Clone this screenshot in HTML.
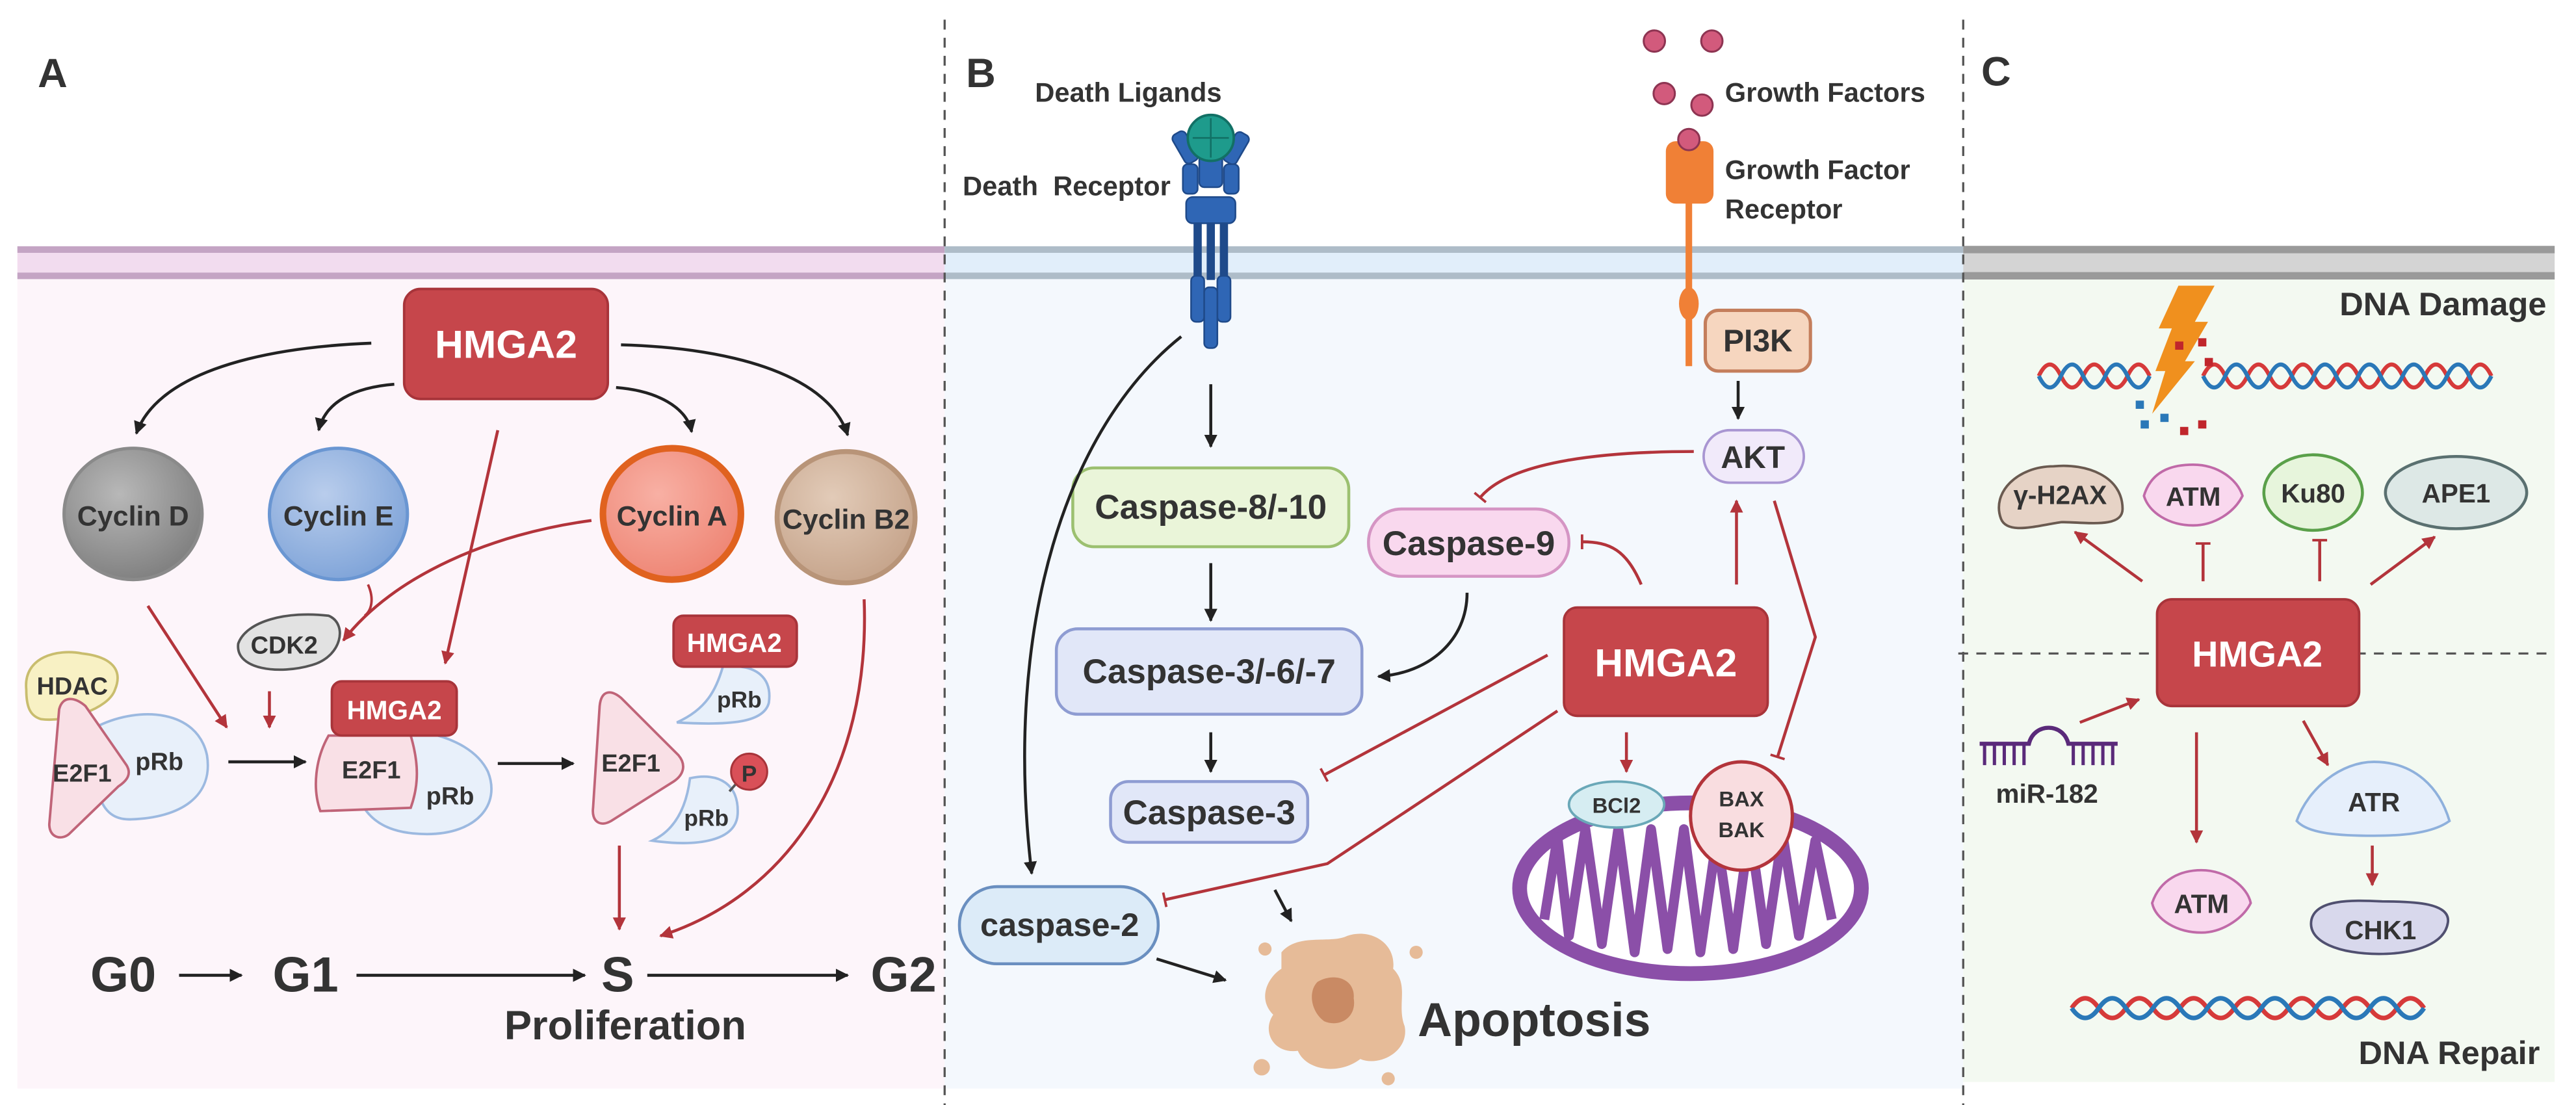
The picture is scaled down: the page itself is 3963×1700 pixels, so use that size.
<!DOCTYPE html>
<html><head><meta charset="utf-8"><style>
html,body{margin:0;padding:0;background:#fff;}
svg{display:block;}
text{font-family:"Liberation Sans",Arial,sans-serif;font-weight:bold;fill:#333;}
</style></head><body>
<svg width="3963" height="1700" viewBox="0 0 1568 673" preserveAspectRatio="none" xmlns="http://www.w3.org/2000/svg">
<defs>
<marker id="ab" viewBox="0 0 10 10" refX="9" refY="5" markerWidth="8" markerHeight="8" markerUnits="userSpaceOnUse" orient="auto"><path d="M0,0 L10,5 L0,10 z" fill="#222"/></marker>
<marker id="ar" viewBox="0 0 10 10" refX="9" refY="5" markerWidth="8" markerHeight="8" markerUnits="userSpaceOnUse" orient="auto"><path d="M0,0 L10,5 L0,10 z" fill="#b3343b"/></marker>
<marker id="tr" viewBox="0 0 4 12" refX="2" refY="6" markerWidth="3" markerHeight="10" markerUnits="userSpaceOnUse" orient="auto"><path d="M2,0 V12" stroke="#b3343b" stroke-width="2"/></marker>
<radialGradient id="gD" cx="0.4" cy="0.35" r="0.7"><stop offset="0" stop-color="#b8b8b8"/><stop offset="1" stop-color="#7e7e7e"/></radialGradient>
<radialGradient id="gE" cx="0.4" cy="0.35" r="0.7"><stop offset="0" stop-color="#b9cdec"/><stop offset="1" stop-color="#7ea3d8"/></radialGradient>
<radialGradient id="gA" cx="0.4" cy="0.35" r="0.7"><stop offset="0" stop-color="#f8b0a4"/><stop offset="1" stop-color="#ee8473"/></radialGradient>
<radialGradient id="gB" cx="0.4" cy="0.35" r="0.7"><stop offset="0" stop-color="#e2cbb8"/><stop offset="1" stop-color="#c5a38a"/></radialGradient>
</defs>

<rect x="10.6" y="150" width="564.4" height="513" fill="#fdf5fa"/>
<rect x="575" y="150" width="620" height="513" fill="#f4f8fd"/>
<rect x="1195" y="150" width="360" height="509" fill="#f3f9f1"/>
<rect x="10.6" y="150" width="564.4" height="20" fill="#f2dcef"/>
<line x1="10.6" y1="152" x2="575" y2="152" stroke="#c4a4c4" stroke-width="4"/>
<line x1="10.6" y1="168" x2="575" y2="168" stroke="#c4a4c4" stroke-width="4"/>
<rect x="575" y="150" width="620" height="20" fill="#e1eefa"/>
<line x1="575" y1="152" x2="1195" y2="152" stroke="#aebcc8" stroke-width="4"/>
<line x1="575" y1="168" x2="1195" y2="168" stroke="#aebcc8" stroke-width="4"/>
<rect x="1195" y="150" width="360" height="20" fill="#d4d4d4"/>
<line x1="1195" y1="152" x2="1555" y2="152" stroke="#9a9a9a" stroke-width="4.5"/>
<line x1="1195" y1="168" x2="1555" y2="168" stroke="#9a9a9a" stroke-width="4.5"/>
<line x1="575" y1="12" x2="575" y2="673" stroke="#555" stroke-width="1.3" stroke-dasharray="6,5"/>
<line x1="1195" y1="12" x2="1195" y2="673" stroke="#555" stroke-width="1.3" stroke-dasharray="6,5"/>
<line x1="1192" y1="398" x2="1555" y2="398" stroke="#555" stroke-width="1.3" stroke-dasharray="6,5"/>

<text x="23" y="53" font-size="25">A</text>
<text x="588" y="53" font-size="25">B</text>
<text x="1206" y="52" font-size="25">C</text>

<!-- PANEL A -->
<rect x="246" y="176" width="124" height="67" rx="10" fill="#c6464b" stroke="#a8343a" stroke-width="1.5"/>
<text x="308" y="218" font-size="24" text-anchor="middle" style="fill:#fff">HMGA2</text>
<path d="M226,209 C150,212 95,230 83,264" fill="none" stroke="#222" stroke-width="1.8" marker-end="url(#ab)"/>
<path d="M240,234 C215,236 198,245 194,262" fill="none" stroke="#222" stroke-width="1.8" marker-end="url(#ab)"/>
<path d="M375,236 C400,238 418,248 421,263" fill="none" stroke="#222" stroke-width="1.8" marker-end="url(#ab)"/>
<path d="M378,210 C450,212 505,230 516,265" fill="none" stroke="#222" stroke-width="1.8" marker-end="url(#ab)"/>

<ellipse cx="81" cy="313" rx="42" ry="40" fill="url(#gD)" stroke="#8a8a8a" stroke-width="2"/>
<text x="81" y="320" font-size="17" text-anchor="middle">Cyclin D</text>
<ellipse cx="206" cy="313" rx="42" ry="40" fill="url(#gE)" stroke="#6a96d2" stroke-width="2"/>
<text x="206" y="320" font-size="17" text-anchor="middle">Cyclin E</text>
<ellipse cx="409" cy="313" rx="42" ry="40" fill="url(#gA)" stroke="#e0621f" stroke-width="4"/>
<text x="409" y="320" font-size="17" text-anchor="middle">Cyclin A</text>
<ellipse cx="515" cy="315" rx="42" ry="40" fill="url(#gB)" stroke="#b89478" stroke-width="3"/>
<text x="515" y="322" font-size="17" text-anchor="middle">Cyclin B2</text>

<path d="M303,262 L271,404" stroke="#b3343b" stroke-width="1.8" marker-end="url(#ar)"/>
<path d="M360,317 C300,325 240,350 209,390" fill="none" stroke="#b3343b" stroke-width="1.8" marker-end="url(#ar)"/>
<path d="M224,356 C228,365 226,372 222,375" fill="none" stroke="#b3343b" stroke-width="1.5"/>
<path d="M145,392 C150,378 175,372 200,375 C212,380 208,400 190,405 C170,411 143,408 145,392 z" fill="#e2e2e2" stroke="#555" stroke-width="1.5"/>
<text x="173" y="398" font-size="15" text-anchor="middle">CDK2</text>
<path d="M90,369 L138,443" stroke="#b3343b" stroke-width="1.8" marker-end="url(#ar)"/>
<path d="M164,421 L164,443" stroke="#b3343b" stroke-width="1.8" marker-end="url(#ar)"/>

<path d="M16,420 C14,400 35,395 50,398 C68,400 75,408 70,420 C66,432 40,440 25,438 C18,436 16,430 16,420 z" fill="#f8f1c4" stroke="#c9bd6e" stroke-width="1.5"/>
<text x="44" y="423" font-size="15" text-anchor="middle">HDAC</text>
<path d="M60,442 C85,430 120,432 126,460 C130,485 110,498 80,499 C60,500 55,480 60,442 z" fill="#e8f0fa" stroke="#9cb9e0" stroke-width="1.5"/>
<path d="M36,432 C38,424 45,424 52,430 L77,466 C80,471 78,475 72,479 L42,508 C37,512 30,510 30,502 z" fill="#f9e0e6" stroke="#c06478" stroke-width="1.5"/>
<text x="50" y="476" font-size="15" text-anchor="middle">E2F1</text>
<text x="97" y="469" font-size="15" text-anchor="middle">pRb</text>
<path d="M139,464 L186,464" stroke="#222" stroke-width="1.8" marker-end="url(#ab)"/>

<path d="M215,448 C240,440 285,445 297,470 C305,490 290,508 260,508 C230,508 210,495 215,448 z" fill="#e8f0fa" stroke="#9cb9e0" stroke-width="1.5"/>
<path d="M200,448 L250,448 C255,465 255,478 250,492 L195,494 C190,480 192,462 200,448 z" fill="#f9e0e6" stroke="#c06478" stroke-width="1.5"/>
<rect x="202" y="415" width="76" height="33" rx="6" fill="#c6464b" stroke="#a8343a" stroke-width="1.5"/>
<text x="240" y="438" font-size="16" text-anchor="middle" style="fill:#fff">HMGA2</text>
<text x="226" y="474" font-size="15" text-anchor="middle">E2F1</text>
<text x="274" y="490" font-size="15" text-anchor="middle">pRb</text>
<path d="M303,465 L349,465" stroke="#222" stroke-width="1.8" marker-end="url(#ab)"/>

<path d="M365,430 C366,420 372,420 378,425 L413,460 C418,466 416,472 410,476 L372,500 C365,504 360,500 361,492 z" fill="#f9e0e6" stroke="#c06478" stroke-width="1.5"/>
<text x="384" y="470" font-size="15" text-anchor="middle">E2F1</text>
<path d="M440,406 C462,404 470,414 468,428 C465,440 445,442 412,440 C430,432 436,420 440,406 z" fill="#e8f0fa" stroke="#9cb9e0" stroke-width="1.5"/>
<rect x="410" y="375" width="75" height="31" rx="6" fill="#c6464b" stroke="#a8343a" stroke-width="1.5"/>
<text x="447" y="397" font-size="16" text-anchor="middle" style="fill:#fff">HMGA2</text>
<text x="450" y="431" font-size="14" text-anchor="middle">pRb</text>
<path d="M420,474 C438,470 450,478 449,496 C448,512 425,516 397,512 C412,505 418,490 420,474 z" fill="#e8f0fa" stroke="#9cb9e0" stroke-width="1.5"/>
<line x1="444" y1="482" x2="451" y2="474" stroke="#555" stroke-width="1.5"/>
<circle cx="456" cy="470" r="11" fill="#d95058" stroke="#a8343a" stroke-width="1.2"/>
<text x="456" y="476" font-size="14" text-anchor="middle">P</text>
<text x="430" y="503" font-size="14" text-anchor="middle">pRb</text>
<path d="M377,515 L377,566" stroke="#b3343b" stroke-width="1.8" marker-end="url(#ar)"/>
<path d="M526,365 C530,470 480,545 402,570" fill="none" stroke="#b3343b" stroke-width="1.8" marker-end="url(#ar)"/>

<text x="55" y="604" font-size="30">G0</text>
<path d="M109,594 L147,594" stroke="#222" stroke-width="1.8" marker-end="url(#ab)"/>
<text x="166" y="604" font-size="30">G1</text>
<path d="M217,594 L356,594" stroke="#222" stroke-width="1.8" marker-end="url(#ab)"/>
<text x="366" y="604" font-size="30">S</text>
<path d="M394,594 L516,594" stroke="#222" stroke-width="1.8" marker-end="url(#ab)"/>
<text x="530" y="604" font-size="30">G2</text>
<text x="307" y="633" font-size="25">Proliferation</text>

<!-- PANEL B -->
<text x="630" y="62" font-size="16.5">Death Ligands</text>
<text x="586" y="119" font-size="16.5" xml:space="preserve">Death  Receptor</text>
<g fill="#2f66b5" stroke="#1f4a8a" stroke-width="1">
<rect x="717" y="80" width="9" height="20" rx="3" transform="rotate(-30 721 90)"/>
<rect x="748" y="80" width="9" height="20" rx="3" transform="rotate(30 752 90)"/>
<rect x="720" y="100" width="9" height="18" rx="3"/>
<rect x="745" y="100" width="9" height="18" rx="3"/>
<rect x="730" y="90" width="14" height="24" rx="3"/>
<rect x="722" y="120" width="30" height="16" rx="4"/>
<rect x="727" y="136" width="4" height="34" fill="#1f4a8a"/>
<rect x="735" y="136" width="4" height="34" fill="#1f4a8a"/>
<rect x="743" y="136" width="4" height="34" fill="#1f4a8a"/>
<rect x="725" y="168" width="8" height="28" rx="3"/>
<rect x="741" y="168" width="8" height="28" rx="3"/>
<rect x="733" y="175" width="8" height="37" rx="3"/>
</g>
<circle cx="737" cy="84" r="14" fill="#1e9b8c" stroke="#127065" stroke-width="1.5"/>
<path d="M726,84 H748 M737,72 V96" stroke="#127065" stroke-width="1"/>

<g fill="#d25a7c" stroke="#8e3452" stroke-width="1.2">
<circle cx="1007" cy="25" r="6.5"/><circle cx="1042" cy="25" r="6.5"/>
<circle cx="1013" cy="57" r="6.5"/><circle cx="1036" cy="64" r="6.5"/>
</g>
<rect x="1014" y="86" width="29" height="38" rx="6" fill="#f08036"/>
<rect x="1026" y="120" width="4" height="103" fill="#f08036"/>
<ellipse cx="1028" cy="185" rx="6" ry="10" fill="#f08036"/>
<circle cx="1028" cy="85" r="6.5" fill="#d25a7c" stroke="#8e3452" stroke-width="1.2"/>
<text x="1050" y="62" font-size="16.5">Growth Factors</text>
<text x="1050" y="109" font-size="16.5">Growth Factor</text>
<text x="1050" y="133" font-size="16.5">Receptor</text>

<rect x="1038" y="189" width="64" height="37" rx="8" fill="#f6d6bf" stroke="#c47e5c" stroke-width="2"/>
<text x="1070" y="214" font-size="19" text-anchor="middle">PI3K</text>
<path d="M1058,232 L1058,255" stroke="#222" stroke-width="1.8" marker-end="url(#ab)"/>
<rect x="1037" y="262" width="61" height="32" rx="16" fill="#f1eafa" stroke="#a996d2" stroke-width="1.5"/>
<text x="1067" y="285" font-size="19" text-anchor="middle">AKT</text>

<path d="M737,234 L737,272" stroke="#222" stroke-width="1.8" marker-end="url(#ab)"/>
<rect x="653" y="285" width="168" height="48" rx="13" fill="#eaf5d9" stroke="#9cc070" stroke-width="1.8"/>
<text x="737" y="316" font-size="21" text-anchor="middle">Caspase-8/-10</text>
<path d="M737,343 L737,378" stroke="#222" stroke-width="1.8" marker-end="url(#ab)"/>
<rect x="643" y="383" width="186" height="52" rx="13" fill="#e1e7f8" stroke="#8e9cd2" stroke-width="1.8"/>
<text x="736" y="416" font-size="21" text-anchor="middle">Caspase-3/-6/-7</text>
<path d="M737,446 L737,470" stroke="#222" stroke-width="1.8" marker-end="url(#ab)"/>
<rect x="676" y="476" width="120" height="37" rx="11" fill="#e1e7f8" stroke="#8e9cd2" stroke-width="1.8"/>
<text x="736" y="502" font-size="21" text-anchor="middle">Caspase-3</text>
<rect x="584" y="540" width="121" height="47" rx="23" fill="#dcebf8" stroke="#6a8fc0" stroke-width="1.8"/>
<text x="645" y="570" font-size="20" text-anchor="middle">caspase-2</text>
<path d="M719,205 C650,260 610,380 628,532" fill="none" stroke="#222" stroke-width="1.8" marker-end="url(#ab)"/>
<path d="M704,584 L746,597" stroke="#222" stroke-width="1.8" marker-end="url(#ab)"/>
<path d="M776,542 L786,561" stroke="#222" stroke-width="1.8" marker-end="url(#ab)"/>

<rect x="833" y="310" width="122" height="41" rx="20" fill="#f9d8ee" stroke="#d595c4" stroke-width="1.8"/>
<text x="894" y="338" font-size="21" text-anchor="middle">Caspase-9</text>
<path d="M893,361 C893,390 870,410 839,412" fill="none" stroke="#222" stroke-width="1.8" marker-end="url(#ab)"/>

<rect x="952" y="370" width="124" height="66" rx="8" fill="#c6464b" stroke="#a8343a" stroke-width="1.5"/>
<text x="1014" y="412" font-size="24" text-anchor="middle" style="fill:#fff">HMGA2</text>

<path d="M1031,275 C980,275 920,280 901,303" fill="none" stroke="#b3343b" stroke-width="1.8" marker-end="url(#tr)"/>
<path d="M999,356 C990,335 980,330 963,330" fill="none" stroke="#b3343b" stroke-width="1.8" marker-end="url(#tr)"/>
<path d="M1057,356 L1057,305" stroke="#b3343b" stroke-width="1.8" marker-end="url(#ar)"/>
<path d="M1080,305 L1105,388 L1082,461" fill="none" stroke="#b3343b" stroke-width="1.8" marker-end="url(#tr)"/>
<path d="M942,399 L806,472" stroke="#b3343b" stroke-width="1.8" marker-end="url(#tr)"/>
<path d="M948,433 L808,526 L709,548" fill="none" stroke="#b3343b" stroke-width="1.8" marker-end="url(#tr)"/>
<path d="M990,446 L990,470" stroke="#b3343b" stroke-width="1.8" marker-end="url(#ar)"/>

<ellipse cx="1029" cy="541" rx="104" ry="52" fill="#fff" stroke="#8b4fa8" stroke-width="9"/>
<path d="M940,560 L948,510 L955,570 L965,505 L975,575 L985,505 L995,580 L1005,505 L1015,578 L1025,505 L1035,580 L1045,510 L1055,578 L1065,505 L1075,575 L1085,508 L1095,570 L1105,512 L1115,560" fill="none" stroke="#8b4fa8" stroke-width="6" stroke-linejoin="round"/>
<ellipse cx="984" cy="490" rx="29" ry="14" fill="#d6edf2" stroke="#6aa8b8" stroke-width="1.5"/>
<text x="984" y="495" font-size="13" text-anchor="middle">BCl2</text>
<ellipse cx="1060" cy="497" rx="31" ry="33" fill="#f9dde0" stroke="#b3343b" stroke-width="2"/>
<text x="1060" y="491" font-size="13" text-anchor="middle">BAX</text>
<text x="1060" y="510" font-size="13" text-anchor="middle">BAK</text>

<path d="M780,580 C790,568 810,575 820,570 C835,565 850,575 848,590 C858,600 850,612 855,625 C858,640 840,650 828,645 C815,655 795,652 790,640 C775,642 768,628 775,618 C765,608 772,595 780,590 z" fill="#e6bb98"/>
<path d="M802,598 C812,592 825,596 824,608 C826,620 815,626 806,622 C798,616 796,604 802,598 z" fill="#c98a64"/>
<circle cx="770" cy="578" r="4" fill="#e6bb98"/><circle cx="862" cy="580" r="4" fill="#e6bb98"/>
<circle cx="768" cy="650" r="5" fill="#e6bb98"/><circle cx="845" cy="657" r="4" fill="#e6bb98"/>
<text x="863" y="631" font-size="29">Apoptosis</text>

<!-- PANEL C -->
<text x="1550" y="192" font-size="20" text-anchor="end">DNA Damage</text>
<path d="M1241,229 q6.75,-14 13.5,0 t13.5,0 t13.5,0 t13.5,0 t13.5,0" fill="none" stroke="#d63a3a" stroke-width="2.5"/>
<path d="M1241,229 q6.75,14 13.5,0 t13.5,0 t13.5,0 t13.5,0 t13.5,0" fill="none" stroke="#2a78b8" stroke-width="2.5"/>
<path d="M1341,229 q6.75,-14 13.5,0 t13.5,0 t13.5,0 t13.5,0 t13.5,0 t13.5,0 t13.5,0 t13.5,0 t13.5,0 t13.5,0 t13.5,0 t13.5,0 t13.5,0" fill="none" stroke="#d63a3a" stroke-width="2.5"/>
<path d="M1341,229 q6.75,14 13.5,0 t13.5,0 t13.5,0 t13.5,0 t13.5,0 t13.5,0 t13.5,0 t13.5,0 t13.5,0 t13.5,0 t13.5,0 t13.5,0 t13.5,0" fill="none" stroke="#2a78b8" stroke-width="2.5"/>
<path d="M1326,174 L1348,174 L1336,196 L1344,196 L1330,220 L1336,220 L1310,252 L1318,226 L1312,226 L1322,200 L1314,200 z" fill="#f0901e"/>
<g fill="#c0262c"><rect x="1324" y="208" width="5" height="5"/><rect x="1338" y="206" width="5" height="5"/><rect x="1342" y="218" width="5" height="5"/><rect x="1327" y="260" width="5" height="5"/><rect x="1338" y="256" width="5" height="5"/></g>
<g fill="#2a78b8"><rect x="1300" y="244" width="5" height="5"/><rect x="1303" y="256" width="5" height="5"/><rect x="1315" y="252" width="5" height="5"/></g>

<path d="M1218,316 C1212,300 1228,284 1250,284 C1270,282 1292,290 1292,310 C1292,322 1270,318 1255,318 C1240,320 1222,326 1218,316 z" fill="#e6d3c6" stroke="#6a5a50" stroke-width="1.5"/>
<text x="1254" y="307" font-size="16" text-anchor="middle">γ-H2AX</text>
<path d="M1305,302 C1310,285 1325,283 1335,283 C1350,283 1362,292 1365,302 C1360,312 1348,320 1335,320 C1320,320 1308,312 1305,302 z" fill="#f9d8ee" stroke="#c06aa8" stroke-width="1.5"/>
<text x="1335" y="308" font-size="16" text-anchor="middle">ATM</text>
<ellipse cx="1408" cy="300" rx="30" ry="23" fill="#e7f5dc" stroke="#5aa04a" stroke-width="1.8"/>
<text x="1408" y="306" font-size="16" text-anchor="middle">Ku80</text>
<ellipse cx="1495" cy="300" rx="43" ry="22" fill="#dde8e6" stroke="#5a7070" stroke-width="1.8"/>
<text x="1495" y="306" font-size="16" text-anchor="middle">APE1</text>

<path d="M1304,354 L1263,324" stroke="#b3343b" stroke-width="1.8" marker-end="url(#ar)"/>
<path d="M1341,354 L1341,331" stroke="#b3343b" stroke-width="1.8" marker-end="url(#tr)"/>
<path d="M1412,354 L1412,329" stroke="#b3343b" stroke-width="1.8" marker-end="url(#tr)"/>
<path d="M1443,356 L1482,327" stroke="#b3343b" stroke-width="1.8" marker-end="url(#ar)"/>

<rect x="1313" y="365" width="123" height="65" rx="9" fill="#c6464b" stroke="#a8343a" stroke-width="1.5"/>
<text x="1374" y="406" font-size="22" text-anchor="middle" style="fill:#fff">HMGA2</text>

<path d="M1205,453 H1235 C1238,440 1256,440 1259,453 H1289" fill="none" stroke="#5a2a7a" stroke-width="2.5"/>
<g stroke="#5a2a7a" stroke-width="2"><path d="M1208,453 V466 M1214,453 V466 M1220,453 V466 M1226,453 V466 M1232,453 V466 M1262,453 V466 M1268,453 V466 M1274,453 V466 M1280,453 V466 M1286,453 V466"/></g>
<text x="1246" y="489" font-size="16" text-anchor="middle">miR-182</text>
<path d="M1266,440 L1302,426" stroke="#b3343b" stroke-width="1.8" marker-end="url(#ar)"/>

<path d="M1337,446 L1337,513" stroke="#b3343b" stroke-width="1.8" marker-end="url(#ar)"/>
<path d="M1310,550 C1315,535 1328,530 1340,530 C1355,530 1368,540 1370,550 C1365,560 1352,568 1340,568 C1325,568 1312,560 1310,550 z" fill="#f9d8ee" stroke="#c06aa8" stroke-width="1.5"/>
<text x="1340" y="556" font-size="16" text-anchor="middle">ATM</text>
<path d="M1402,439 L1417,466" stroke="#b3343b" stroke-width="1.8" marker-end="url(#ar)"/>
<path d="M1398,500 C1405,480 1425,464 1445,464 C1470,464 1485,480 1491,500 C1480,508 1460,509 1445,509 C1425,509 1405,508 1398,500 z" fill="#e6effb" stroke="#8eb0dc" stroke-width="1.5"/>
<text x="1445" y="494" font-size="16" text-anchor="middle">ATR</text>
<path d="M1444,515 L1444,539" stroke="#b3343b" stroke-width="1.8" marker-end="url(#ar)"/>
<path d="M1407,560 C1410,548 1430,548 1450,549 C1470,549 1492,550 1490,562 C1488,575 1470,581 1448,581 C1425,581 1404,574 1407,560 z" fill="#d8d8ec" stroke="#505070" stroke-width="1.5"/>
<text x="1449" y="572" font-size="16" text-anchor="middle">CHK1</text>

<path d="M1261,614 q8.25,-12 16.5,0 t16.5,0 t16.5,0 t16.5,0 t16.5,0 t16.5,0 t16.5,0 t16.5,0 t16.5,0 t16.5,0 t16.5,0 t16.5,0 t16.5,0" fill="none" stroke="#d63a3a" stroke-width="2.8"/>
<path d="M1261,614 q8.25,12 16.5,0 t16.5,0 t16.5,0 t16.5,0 t16.5,0 t16.5,0 t16.5,0 t16.5,0 t16.5,0 t16.5,0 t16.5,0 t16.5,0 t16.5,0" fill="none" stroke="#2a78b8" stroke-width="2.8"/>
<text x="1546" y="648" font-size="20" text-anchor="end">DNA Repair</text>
</svg>
</body></html>
